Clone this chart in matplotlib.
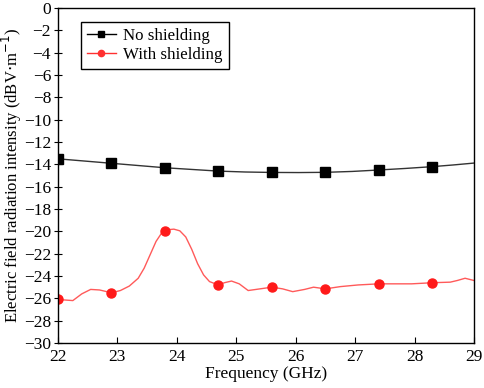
import numpy as np
import matplotlib
matplotlib.use("Agg")
import matplotlib.pyplot as plt

# Measured points (markers) for both cases
freq_marks=[22.0,22.9,23.8,24.7,25.6,26.5,27.4,28.3]
no_shield_marks=[-13.5,-13.9,-14.3,-14.6,-14.7,-14.7,-14.5,-14.2]
with_shield_marks=[-26.1,-25.5,-20.0,-24.8,-25.0,-25.2,-24.7,-24.6]

# Traced curves
freq_no_curve=[22.0,22.45,22.9,23.35,23.8,24.25,24.7,25.15,25.6,26.05,26.5,26.95,27.4,27.85,28.3,28.65,29.0]
no_shield_curve=[-13.5,-13.7,-13.9,-14.1,-14.3,-14.45,-14.6,-14.68,-14.72,-14.73,-14.71,-14.63,-14.5,-14.36,-14.2,-14.05,-13.88]
freq_with_curve=[22.0,22.12,22.25,22.4,22.55,22.7,22.9,23.05,23.2,23.35,23.45,23.55,23.65,23.75,23.85,23.95,24.05,24.15,24.25,24.35,24.45,24.55,24.7,24.8,24.92,25.05,25.2,25.4,25.6,25.78,25.95,26.15,26.3,26.5,26.75,27.05,27.4,27.7,27.95,28.3,28.6,28.72,28.85,29.0]
with_shield_curve=[-26.1,-26.15,-26.2,-25.6,-25.2,-25.25,-25.5,-25.3,-24.9,-24.2,-23.3,-22.1,-20.9,-20.1,-19.85,-19.8,-19.95,-20.5,-21.6,-22.9,-23.9,-24.5,-24.8,-24.6,-24.45,-24.7,-25.3,-25.15,-25.0,-25.15,-25.4,-25.2,-25.0,-25.15,-24.95,-24.8,-24.7,-24.7,-24.7,-24.6,-24.55,-24.4,-24.2,-24.4]

plt.rcParams['font.family']=['Liberation Serif','DejaVu Serif']
fontsize=12.5

fig=plt.figure(figsize=(4.84,3.88),dpi=100)
ax=fig.add_axes([0.1198,0.116,0.8595,0.863])

ax.plot(freq_no_curve,no_shield_curve,color="#333333",linewidth=1.0)
ax.plot(freq_marks,no_shield_marks,linestyle="none",marker="s",markersize=6.5,color="black")
ax.plot(freq_with_curve,with_shield_curve,color="#ff5a5a",linewidth=1.0)
ax.plot(freq_marks,with_shield_marks,linestyle="none",marker="o",markersize=6.5,color="#ff1a1a")

# Legend proxies
ax.plot([],[],color="black",marker="s",markersize=4,linewidth=1.0,label="No shielding")
ax.plot([],[],color="#ff3030",marker="o",markersize=4.5,linewidth=1.0,label="With shielding")
leg=ax.legend(loc="upper left",bbox_to_anchor=(0.035,0.985),fontsize=12.2,handlelength=1.7,
              borderpad=0.35,labelspacing=0.2,handletextpad=0.45,fancybox=False,framealpha=1)
leg.get_frame().set_edgecolor("black")
leg.get_frame().set_linewidth(1.0)

ax.set_xlim(22,29)
ax.set_ylim(-30,0)
ax.set_xticks(np.arange(22,30,1))
ax.set_yticks(np.arange(-30,1,2))
ax.tick_params(axis='x',direction='in',length=4,labelsize=fontsize,pad=4)
ax.tick_params(axis='y',direction='inout',length=6,labelsize=fontsize,pad=2)
ax.set_xlabel("Frequency (GHz)",fontsize=fontsize,labelpad=1)
ax.set_ylabel("Electric field radiation intensity (dBV$\\cdot$m$^{-1}$)",fontsize=12,labelpad=0)
for s in ax.spines.values():
    s.set_linewidth(1.0)

fig.savefig("out.png",dpi=100)
plt.close()
